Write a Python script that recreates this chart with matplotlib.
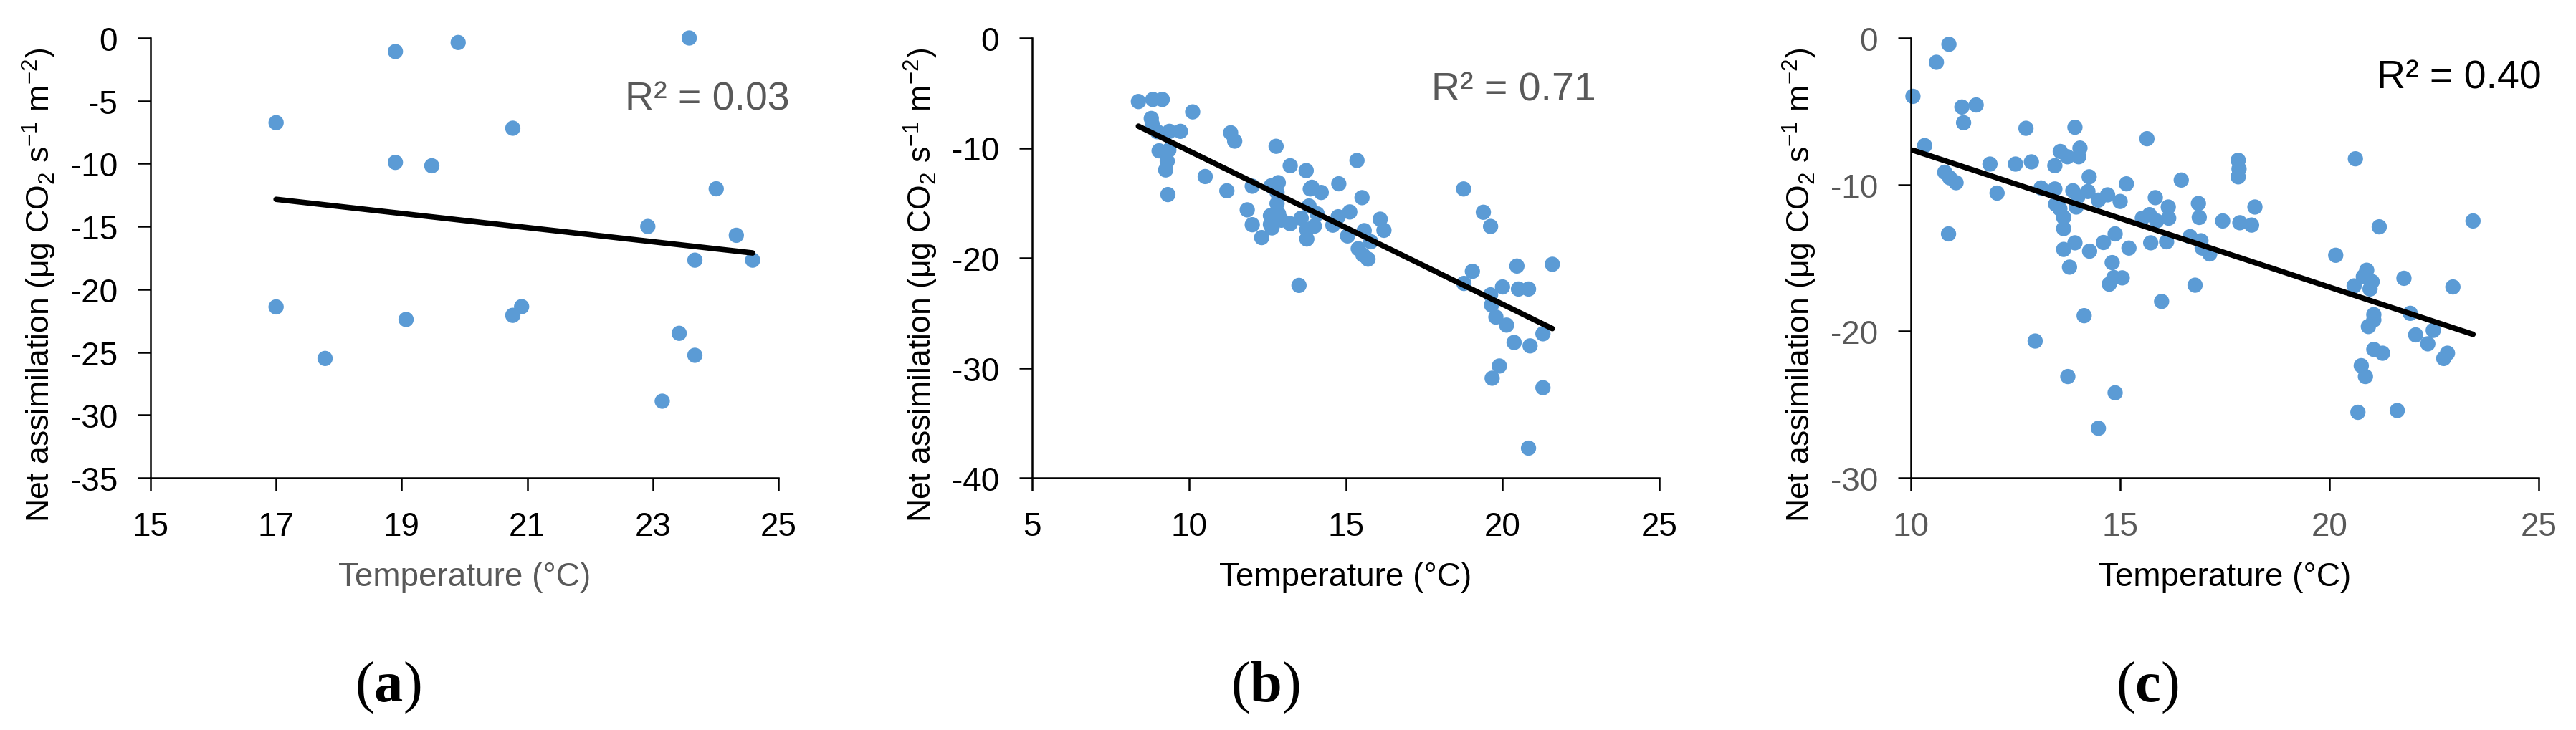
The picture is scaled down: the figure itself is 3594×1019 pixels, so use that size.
import numpy as np
import matplotlib
matplotlib.use("Agg")
import matplotlib.pyplot as plt

plt.rcParams['font.family'] = ['Liberation Sans', 'DejaVu Sans']
plt.rcParams['axes.unicode_minus'] = False
plt.rcParams['mathtext.fontset'] = 'custom'
plt.rcParams['mathtext.rm'] = 'Liberation Sans'
plt.rcParams['mathtext.it'] = 'Liberation Sans:italic'
plt.rcParams['mathtext.bf'] = 'Liberation Serif:bold'

# ---------------- data ----------------
a_temp = [17.0, 17.0, 17.78, 18.9, 18.9, 19.07, 19.48, 19.9, 20.77, 20.77,
          20.91, 22.92, 23.15, 23.42, 23.58, 23.67, 23.67, 24.01, 24.33, 24.59]
a_assim = [-6.74, -21.4, -25.5, -1.08, -9.9, -22.4, -10.17, -0.36, -7.18, -22.07,
           -21.38, -15.0, -28.9, -23.5, 0.0, -17.68, -25.25, -12.0, -15.7, -17.68]

b_temp = [8.39, 8.85, 9.15, 8.80, 8.83, 8.99, 9.38, 9.73, 10.12, 9.05,
          9.36, 9.31, 9.26, 9.33, 10.52, 11.21, 11.33, 11.46, 11.86, 12.02,
          12.02, 12.32, 12.62, 12.78, 12.81, 12.85, 12.81, 12.60, 12.60, 12.65,
          12.86, 12.95, 13.23, 13.23, 13.51, 13.58, 13.74, 13.83, 13.87, 13.92,
          13.76, 13.76, 14.0, 14.09, 14.22, 14.59, 14.76, 14.78, 15.06, 15.13,
          15.36, 15.40, 15.52, 15.59, 15.55, 15.71, 15.80, 16.1, 16.22, 18.76,
          18.77, 19.04, 19.39, 19.62, 19.62, 19.65, 19.79, 19.67, 19.90, 20.0,
          20.13, 20.37, 20.46, 20.51, 20.83, 20.88, 20.83, 21.29, 21.29, 21.59]
b_assim = [-5.78, -5.59, -5.59, -7.32, -7.86, -8.52, -8.49, -8.49, -6.72, -10.26,
           -10.2, -11.2, -12.0, -14.24, -12.6, -13.9, -8.62, -9.38, -15.63, -13.48,
           -16.98, -18.15, -13.45, -9.85, -14.05, -13.16, -15.06, -16.16, -16.95, -17.27,
           -16.0, -16.57, -11.62, -16.89, -22.5, -16.39, -12.06, -15.28, -13.73, -13.58,
           -17.43, -18.28, -17.11, -16.0, -14.05, -17.02, -16.26, -13.26, -18.0, -15.82,
           -11.14, -19.16, -14.52, -17.52, -19.73, -20.11, -18.53, -16.48, -17.49, -13.73,
           -22.32, -21.22, -15.85, -17.14, -23.36, -24.28, -25.38, -30.94, -29.83, -22.64,
           -26.11, -27.69, -20.74, -22.83, -22.83, -28.0, -37.3, -26.9, -31.8, -20.58]

c_temp = [10.05, 10.61, 10.91, 10.33, 10.81, 10.93, 11.08, 10.90, 11.22, 11.56,
          11.26, 11.89, 12.06, 12.50, 12.75, 12.88, 12.97, 13.11, 13.44, 13.44,
          13.46, 13.56, 13.65, 13.65, 13.65, 13.57, 13.74, 13.75, 13.79, 13.92,
          13.92, 14.01, 14.04, 13.95, 13.87, 13.99, 14.23, 14.26, 14.27, 14.14,
          14.48, 14.48, 14.60, 14.70, 14.74, 14.81, 14.85, 14.88, 14.88, 15.0,
          15.05, 15.15, 15.21, 15.53, 15.64, 15.70, 15.73, 15.84, 15.87, 15.99,
          16.11, 16.15, 16.16, 16.46, 16.67, 16.79, 16.87, 16.89, 16.93, 16.96,
          17.14, 17.45, 17.82, 17.84, 17.82, 17.86, 18.14, 18.22, 20.15, 20.62,
          20.59, 20.68, 20.76, 20.81, 20.89, 20.86, 20.93, 20.97, 21.02, 21.06,
          21.06, 21.06, 21.19, 21.27, 21.62, 21.78, 21.93, 22.06, 22.35, 22.48,
          22.73, 22.82, 22.95, 23.43]
c_assim = [-3.98, -1.66, -0.43, -7.34, -9.16, -9.54, -9.87, -13.36, -4.71, -4.57,
           -5.78, -8.6, -10.58, -8.6, -6.16, -8.45, -20.67, -10.23, -8.71, -10.3,
           -11.34, -11.65, -12.24, -13.0, -14.42, -7.74, -8.1, -23.09, -15.63, -6.09,
           -13.97, -8.1, -7.51, -11.53, -10.42, -10.82, -10.47, -9.47, -14.54, -18.94,
           -11.06, -26.62, -13.95, -10.7, -16.79, -15.32, -16.34, -13.36, -24.2, -11.15,
           -16.36, -9.95, -14.33, -12.29, -6.87, -12.05, -13.97, -10.89, -12.48, -17.97,
           -13.9, -11.53, -12.29, -9.69, -13.55, -16.86, -11.29, -12.24, -13.83, -14.33,
           -14.73, -12.48, -8.34, -8.93, -9.47, -12.6, -12.76, -11.53, -14.82, -8.24,
           -16.91, -25.53, -22.35, -16.27, -15.84, -23.09, -19.68, -17.12, -16.62, -18.87,
           -19.23, -21.24, -12.88, -21.5, -25.41, -16.39, -18.78, -20.25, -20.86, -19.94,
           -21.86, -21.5, -16.98, -12.48]

r2_labels = ["R\u00b2 = 0.03", "R\u00b2 = 0.71", "R\u00b2 = 0.40"]
panel_letters = ["a", "b", "c"]
x_ticks = [[15, 17, 19, 21, 23, 25], [5, 10, 15, 20, 25], [10, 15, 20, 25]]
y_ticks = [[0, -5, -10, -15, -20, -25, -30, -35], [0, -10, -20, -30, -40], [0, -10, -20, -30]]
x_label = "Temperature (\u00b0C)"
y_label = r"Net assimilation (μg CO$_2$ s$^{-1}$ m$^{-2}$)"

# ---------------- style ----------------
GRAY = "#595959"
BLUE = "#5B9BD5"
W, H = 3594, 1020
fig = plt.figure(figsize=(W / 100, H / 100), dpi=100)

ax_boxes = [(210, 1086), (1440, 2315), (2666, 3542)]
top_px, bot_px = 54, 668
tick_colors = ["black", "black", GRAY]
xlabel_colors = [GRAY, "black", "black"]
r2_colors = [GRAY, GRAY, "black"]
r2_pos = [(987, 153), (2112, 141), (3431, 124)]
panel_pos = [(541, 960), (1765, 960), (2996, 960)]

datasets = [(a_temp, a_assim), (b_temp, b_assim), (c_temp, c_assim)]

for i, ((xs, ys), (l, r)) in enumerate(zip(datasets, ax_boxes)):
    ax = fig.add_axes([l / W, 1 - bot_px / H, (r - l) / W, (bot_px - top_px) / H])
    xs = np.asarray(xs)
    ys = np.asarray(ys)
    ax.scatter(xs, ys, s=235, color=BLUE, edgecolors='none', zorder=2, clip_on=False)
    k, b0 = np.polyfit(xs, ys, 1)
    xx = np.array([xs.min(), xs.max()])
    ax.plot(xx, k * xx + b0, color='black', lw=5.5, solid_capstyle='round', zorder=3)

    ax.set_xlim(x_ticks[i][0], x_ticks[i][-1])
    ax.set_ylim(y_ticks[i][-1], y_ticks[i][0])
    ax.set_xticks(x_ticks[i])
    ax.set_yticks(y_ticks[i])
    for s in ['top', 'right']:
        ax.spines[s].set_visible(False)
    for s in ['left', 'bottom']:
        ax.spines[s].set_linewidth(1.8)
        ax.spines[s].set_color('black')
    ax.tick_params(axis='both', direction='out', length=13, width=1.8, color='black',
                   labelsize=33, labelcolor=tick_colors[i], pad=20)

    ax.set_xlabel(x_label, fontsize=33, color=xlabel_colors[i], labelpad=19)
    ax.set_ylabel(y_label, fontsize=32, color='black', labelpad=12)
    ax.yaxis.label.set_y(0.44)

    fig.text(r2_pos[i][0] / W, 1 - r2_pos[i][1] / H, r2_labels[i], fontsize=40,
             color=r2_colors[i], ha='center', va='baseline')
    fig.text(panel_pos[i][0] / W, 1 - panel_pos[i][1] / H,
             "(" + r"$\mathbf{" + panel_letters[i] + "}$" + ")",
             fontsize=58, family='Liberation Serif', color='black',
             ha='center', va='center')

fig.savefig("out.png", dpi=100)
